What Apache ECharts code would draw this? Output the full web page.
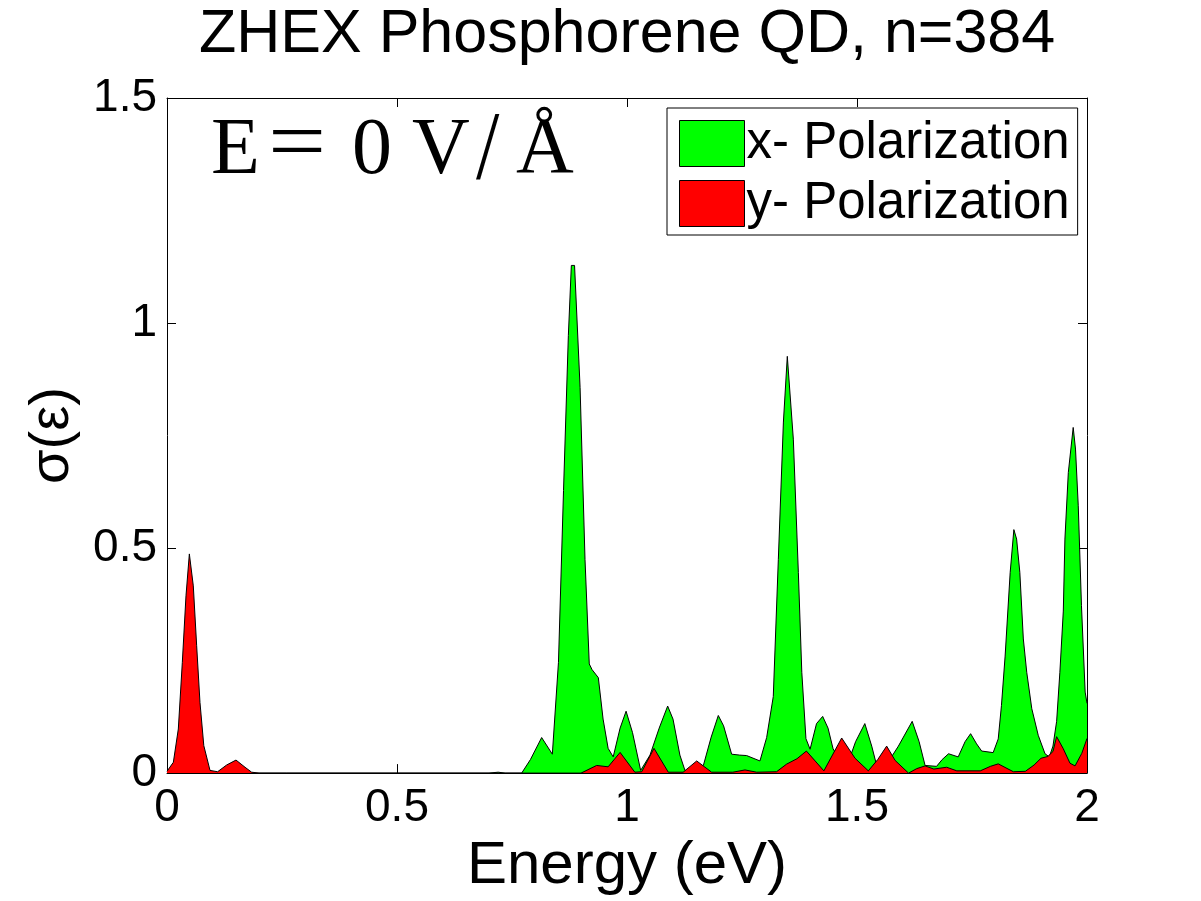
<!DOCTYPE html>
<html>
<head>
<meta charset="utf-8">
<script src="https://cdn.jsdelivr.net/npm/echarts@6/dist/echarts.min.js"></script>
<style>
html,body{margin:0;padding:0;background:#fff;}
#chart{width:1201px;height:901px;}
</style>
</head>
<body>
<div id="chart"></div>
<script>
// ---- data ----
var titleText = 'ZHEX Phosphorene QD, n=384';
var xTicks = [0, 0.5, 1, 1.5, 2];
var yTicks = [0, 0.5, 1, 1.5];
var seriesNames = ['x- Polarization', 'y- Polarization'];

// x-polarization (green): energy (eV) and sigma
var xPolEnergy = [0, 0.005, 0.06, 0.08, 0.10, 0.70, 0.72, 0.735, 0.771, 0.79, 0.8145, 0.8377, 0.851, 0.862, 0.8725, 0.879, 0.886, 0.898, 0.9087, 0.918, 0.924, 0.9377, 0.948, 0.959, 0.970, 0.985, 0.998, 1.012, 1.0297, 1.05, 1.07, 1.0884, 1.10, 1.115, 1.126, 1.145, 1.166, 1.183, 1.1985, 1.21, 1.2275, 1.245, 1.260, 1.289, 1.3036, 1.318, 1.329, 1.340, 1.3485, 1.3616, 1.3725, 1.380, 1.389, 1.398, 1.412, 1.4254, 1.437, 1.448, 1.462, 1.4776, 1.497, 1.517, 1.532, 1.546, 1.565, 1.59, 1.620, 1.635, 1.648, 1.673, 1.685, 1.699, 1.720, 1.735, 1.747, 1.760, 1.771, 1.796, 1.807, 1.814, 1.822, 1.833, 1.841, 1.847, 1.854, 1.8616, 1.869, 1.88, 1.894, 1.9087, 1.918, 1.926, 1.934, 1.941, 1.9485, 1.952, 1.9594, 1.970, 1.975, 1.981, 1.988, 1.996, 2.0];
var xPolSigma  = [0, 0.004, 0.004, 0.001, 0, 0, 0.002, 0, 0, 0.03, 0.079, 0.042, 0.246, 0.628, 0.972, 1.128, 1.128, 0.857, 0.475, 0.2425, 0.23, 0.212, 0.12, 0.055, 0.036, 0.1, 0.1375, 0.09, 0.006, 0.04, 0.1, 0.149, 0.12, 0.04, 0.006, 0.005, 0.017, 0.08, 0.128, 0.105, 0.042, 0.04, 0.039, 0.027, 0.079, 0.17, 0.475, 0.78, 0.926, 0.742, 0.446, 0.224, 0.0765, 0.053, 0.11, 0.126, 0.1, 0.054, 0.03, 0.0144, 0.07, 0.11, 0.06, 0.004, 0.02, 0.06, 0.115, 0.07, 0.017, 0.015, 0.03, 0.043, 0.036, 0.07, 0.0876, 0.065, 0.049, 0.0455, 0.076, 0.15, 0.26, 0.446, 0.541, 0.52, 0.446, 0.298, 0.224, 0.143, 0.084, 0.043, 0.036, 0.06, 0.115, 0.224, 0.36, 0.52, 0.668, 0.768, 0.72, 0.594, 0.372, 0.18, 0.155];

// y-polarization (red): energy (eV) and sigma
var yPolEnergy = [0, 0.0138, 0.0246, 0.0333, 0.0413, 0.0486, 0.0572, 0.0645, 0.0717, 0.080, 0.0935, 0.11, 0.1297, 0.150, 0.1696, 0.184, 0.20, 0.25, 0.254, 0.26, 0.90, 0.934, 0.959, 0.985, 1.017, 1.032, 1.0587, 1.0898, 1.122, 1.1515, 1.184, 1.23, 1.2565, 1.282, 1.325, 1.347, 1.3696, 1.390, 1.428, 1.4667, 1.4957, 1.5246, 1.545, 1.5645, 1.583, 1.612, 1.630, 1.648, 1.667, 1.695, 1.717, 1.768, 1.790, 1.807, 1.84, 1.866, 1.885, 1.900, 1.915, 1.926, 1.934, 1.948, 1.963, 1.974, 1.9887, 2.0];
var yPolSigma  = [0.004, 0.024, 0.098, 0.246, 0.394, 0.487, 0.416, 0.283, 0.157, 0.061, 0.006, 0.003, 0.018, 0.029, 0.013, 0.002, 0, 0, 0.003, 0, 0, 0.017, 0.014, 0.046, 0.002, 0.003, 0.055, 0.002, 0.002, 0.027, 0.002, 0.002, 0.007, 0.002, 0.003, 0.02, 0.032, 0.049, 0.005, 0.078, 0.033, 0.005, 0.03, 0.060, 0.028, 0.0, 0.01, 0.016, 0.009, 0.013, 0.005, 0.005, 0.015, 0.0205, 0.003, 0.004, 0.018, 0.033, 0.037, 0.048, 0.081, 0.055, 0.022, 0.016, 0.044, 0.077];

function pairs(xs, ys){ return xs.map(function(x,i){ return [x, ys[i]]; }); }

var FONT = '"Liberation Sans", Arial, Helvetica, sans-serif';
var SERIF = '"Liberation Serif", "DejaVu Serif", serif';

var chart = echarts.init(document.getElementById('chart'), null, {renderer:'canvas'});

var axisCommon = {
  type: 'value',
  axisLine: {show: true, onZero: false, lineStyle: {color: '#000', width: 1}},
  axisTick: {show: true, inside: true, length: 9, lineStyle: {color: '#000', width: 1}},
  splitLine: {show: false}
};

var option = {
  animation: false,
  backgroundColor: '#fff',
  title: {
    text: titleText,
    left: 194,
    top: 0,
    textStyle: {fontFamily: FONT, fontSize: 61, fontWeight: 'normal', color: '#000'}
  },
  legend: {
    orient: 'vertical',
    left: 667,
    top: 108,
    padding: [10, 8, 6, 12],
    itemGap: 9,
    itemWidth: 65,
    itemHeight: 46,
    icon: 'rect',
    backgroundColor: '#fff',
    borderColor: '#000',
    borderWidth: 1,
    borderRadius: 0,
    itemStyle: {borderColor: '#000', borderWidth: 1},
    textStyle: {fontFamily: FONT, fontSize: 51, lineHeight: 46, color: '#000', padding: [0,0,0,-3]},
    data: seriesNames
  },
  grid: {left: 167, top: 98, right: 114, bottom: 127},
  xAxis: [
    Object.assign({}, axisCommon, {
      position: 'bottom',
      min: xTicks[0], max: xTicks[xTicks.length-1], interval: 0.5,
      name: 'Energy (eV)',
      nameLocation: 'middle',
      nameGap: 60,
      nameTextStyle: {fontFamily: FONT, fontSize: 60, color: '#000'},
      axisLabel: {fontFamily: FONT, fontSize: 46, color: '#000', margin: 12}
    }),
    Object.assign({}, axisCommon, {
      position: 'top',
      min: xTicks[0], max: xTicks[xTicks.length-1], interval: 0.5,
      axisLabel: {show: false}
    })
  ],
  yAxis: [
    Object.assign({}, axisCommon, {
      position: 'left',
      min: yTicks[0], max: yTicks[yTicks.length-1], interval: 0.5,
      name: 'σ(ε)',
      nameLocation: 'middle',
      nameGap: 86,
      nameTextStyle: {fontFamily: FONT, fontSize: 56, color: '#000'},
      axisLabel: {fontFamily: FONT, fontSize: 46, color: '#000', margin: 10}
    }),
    Object.assign({}, axisCommon, {
      position: 'right',
      min: yTicks[0], max: yTicks[yTicks.length-1], interval: 0.5,
      axisLabel: {show: false}
    })
  ],
  series: [
    {
      name: seriesNames[0],
      type: 'line',
      data: pairs(xPolEnergy, xPolSigma),
      symbol: 'none',
      smooth: false,
      color: '#00ff00',
      itemStyle: {color: '#00ff00'},
      lineStyle: {color: '#000', width: 1},
      areaStyle: {color: '#00ff00', opacity: 1},
      z: 2
    },
    {
      name: seriesNames[1],
      type: 'line',
      data: pairs(yPolEnergy, yPolSigma),
      symbol: 'none',
      smooth: false,
      color: '#ff0000',
      itemStyle: {color: '#ff0000'},
      lineStyle: {color: '#000', width: 1},
      areaStyle: {color: '#ff0000', opacity: 1},
      z: 3
    }
  ],
  graphic: [
    {type: 'text', left: 211, top: 112, style: {text: 'E', font: '80px ' + SERIF, fill: '#000'}},
    {type: 'text', left: 268, top: 104, scaleX: 1.2, style: {text: '=', font: '86px ' + SERIF, fill: '#000'}},
    {type: 'text', left: 352, top: 112, style: {text: '0', font: '80px ' + SERIF, fill: '#000'}},
    {type: 'text', left: 412, top: 112, style: {text: 'V', font: '80px ' + SERIF, fill: '#000'}},
    {type: 'text', left: 476, top: 104, scaleY: 1.15, style: {text: '/', font: '84px ' + SERIF, fill: '#000'}},
    {type: 'text', left: 516, top: 112, style: {text: 'Å', font: '80px ' + SERIF, fill: '#000'}}
  ]
};

chart.setOption(option);
</script>
</body>
</html>
